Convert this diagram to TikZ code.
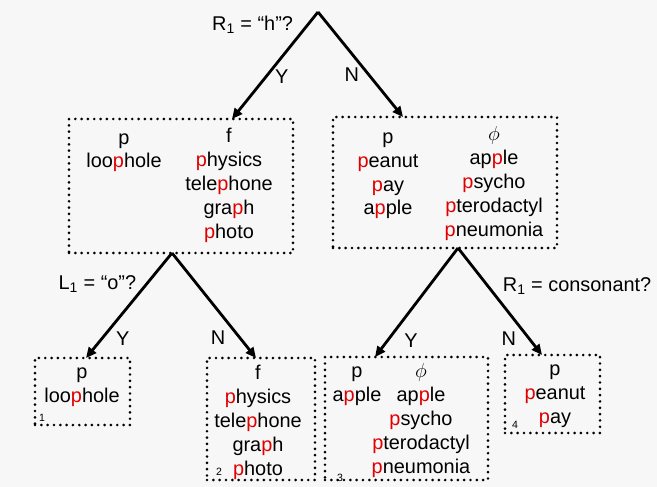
\documentclass[tikz,border=0pt]{standalone}
\usepackage{fontspec}
\setmainfont{Liberation Sans}
\usetikzlibrary{arrows.meta}
\definecolor{pagebg}{RGB}{247,247,247}
\definecolor{hitred}{RGB}{225,0,0}
\newcommand{\rp}{\textcolor{hitred}{p}}

\begin{document}
\begin{tikzpicture}[x=0.03cm, y=-0.03cm,
    every node/.style={font=\fontsize{17}{20.4}\selectfont},
    wordbox/.style 2 args={draw, line width=2.5pt, dash pattern=on 0pt off 5.4pt, line cap=round,
        minimum width=#1*0.03cm, minimum height=#2*0.03cm, inner sep=0pt},
    col/.style={align=center, anchor=base, inner sep=0pt},
    branch/.style={-{Triangle[length=9pt,width=8pt]}, line width=2.4pt},
    tag/.style={font=\fontsize{9}{10}\selectfont, inner sep=0pt}]

    % background
    \fill[pagebg] (0,0) rectangle (657,487);

    % ---------------- boxes ----------------
    \node[wordbox={224}{134}] (boxA) at (181,186) {};
    \node[wordbox={224}{131}] (boxB) at (445,182.5) {};
    \node[wordbox={95}{67}]   (box1) at (82.5,391.5) {};
    \node[wordbox={108}{122}] (box2) at (261,419) {};
    \node[wordbox={163}{123}] (box3) at (406.5,418.5) {};
    \node[wordbox={95}{78}]   (box4) at (552.5,394) {};

    % ---------------- box contents (placed at last baseline) ----------------
    \node[col] (aL) at (124,168) {p\\loo\rp hole};
    \node[col] (aR) at (229,238) {f\\\rp hysics\\tele\rp hone\\gra\rp h\\\rp hoto};

    \node[col] (bL) at (388,215) {p\\\rp eanut\\\rp ay\\a\rp ple};
    \node[col] (bR) at (494,236) {$\phi$\\ap\rp le\\\rp sycho\\\rp terodactyl\\\rp neumonia};

    \node[col] (c1) at (82,402) {p\\loo\rp hole};
    \node[col] (c2) at (258,475) {f\\\rp hysics\\tele\rp hone\\gra\rp h\\\rp hoto};
    \node[col] (c3L) at (357,401) {p\\a\rp ple};
    \node[col] (c3R) at (421,473) {$\phi$\\ap\rp le\\\rp sycho\\\rp terodactyl\\\rp neumonia};
    \node[col] (c4) at (555,423) {p\\\rp eanut\\\rp ay};

    % leaf numbers
    \node[tag] (n1) at (42,418) {1};
    \node[tag] (n2) at (219,472) {2};
    \node[tag] (n3) at (340,478) {3};
    \node[tag] (n4) at (515,425) {4};

    % ---------------- branch points ----------------
    \coordinate (root) at (318,12);
    \coordinate (inA) at (232,119);
    \coordinate (inB) at (403,117);
    \coordinate (outA) at (172,253);
    \coordinate (outB) at (458,248);
    \coordinate (in1) at (86,358);
    \coordinate (in2) at (256,358);
    \coordinate (in3) at (375,357);
    \coordinate (in4) at (542,355);

    % ---------------- branches ----------------
    \draw[branch] (root) -- node[pos=.12, left=8pt] {R\textsubscript{1} = “h”?}
                             node[pos=.6, right=3pt] {Y} (inA);
    \draw[branch] (root) -- node[pos=.6, left=4pt] {N} (inB);

    \draw[branch] (outA) -- node[pos=.3, left=4pt] {L\textsubscript{1} = “o”?}
                            node[pos=.82, right=8pt] {Y} (in1);
    \draw[branch] (outA) -- node[pos=.81, left=8pt] {N} (in2);

    \draw[branch] (outB) -- node[pos=.85, right=10pt] {Y} (in3);
    \draw[branch] (outB) -- node[pos=.36, right=8pt] {R\textsubscript{1} = consonant?}
                            node[pos=.85, left=7pt] {N} (in4);
\end{tikzpicture}
\end{document}
